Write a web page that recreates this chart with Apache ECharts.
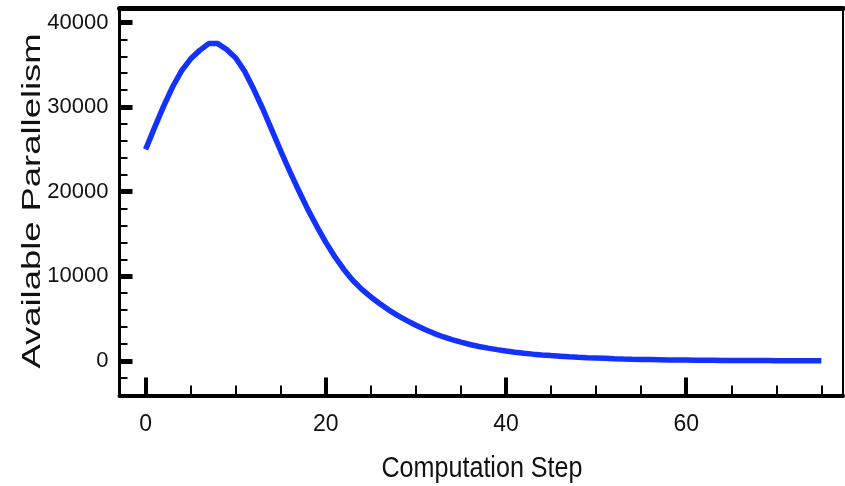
<!DOCTYPE html>
<html>
<head>
<meta charset="utf-8">
<script src="https://cdn.jsdelivr.net/npm/echarts@6/dist/echarts.min.js"></script>
<style>
  html, body { margin: 0; padding: 0; background: #fff; }
  #chart { width: 845px; height: 486px; }
</style>
</head>
<body>
<div id="chart"></div>
<script>
// computation step (x) and available parallelism (y)
const steps = [
  0, 1, 2, 3, 4, 5, 6, 7, 8, 9, 10, 11, 12, 13, 14, 15, 16, 17, 18, 19,
  20, 21, 22, 23, 24, 25, 26, 27, 28, 29, 30, 31, 32, 33, 34, 35, 36, 37, 38, 39,
  40, 41, 42, 43, 44, 45, 46, 47, 48, 49, 50, 51, 52, 53, 54, 55, 56, 57, 58, 59,
  60, 61, 62, 63, 64, 65, 66, 67, 68, 69, 70, 71, 72, 73, 74, 75
];
const parallelism = [
  25000, 27600, 30100, 32400, 34300, 35700, 36700, 37500, 37500, 36800,
  35800, 34200, 32100, 29800, 27300, 24800, 22400, 20100, 17900, 15900,
  14000, 12300, 10800, 9500, 8450, 7550, 6750, 6000, 5350, 4750,
  4200, 3700, 3250, 2850, 2500, 2200, 1930, 1700, 1500, 1320,
  1160, 1020, 900, 790, 700, 620, 550, 480, 420, 370,
  330, 290, 250, 220, 190, 170, 150, 130, 110, 100,
  90, 80, 70, 60, 50, 45, 40, 35, 30, 25,
  20, 18, 15, 12, 10, 10
];
const xMajorTicks = [0, 20, 40, 60];
const xMinorTicks = [0, 5, 10, 15, 20, 25, 30, 35, 40, 45, 50, 55, 60, 65, 70, 75];
const yMajorTicks = [0, 10000, 20000, 30000, 40000];
const yMinorTicks = [-4000, -2000, 0, 2000, 4000, 6000, 8000, 10000, 12000, 14000, 16000, 18000,
  20000, 22000, 24000, 26000, 28000, 30000, 32000, 34000, 36000, 38000, 40000];

const font = "'Liberation Sans', Arial, sans-serif";

const chart = echarts.init(document.getElementById('chart'));

const xRange = { min: -2.9, max: 77.4 };
const yRange = { min: -4100, max: 41650 };

let option = {
  animation: false,
  backgroundColor: '#fff',
  grid: { left: 119.5, right: 2, top: 8.5, bottom: 90.5 },
  xAxis: [
    {
      type: 'value', position: 'bottom', ...xRange,
      axisLine: { onZero: false, lineStyle: { color: '#000', width: 4 } },
      axisTick: { inside: true, length: 18, lineStyle: { color: '#000', width: 4 }, customValues: xMajorTicks },
      axisLabel: {
        margin: 18, fontFamily: font, fontSize: 23, color: '#111',
        customValues: xMajorTicks, formatter: (v) => String(v)
      },
      splitLine: { show: false }
    },
    {
      type: 'value', position: 'bottom', ...xRange,
      axisLine: { show: false, onZero: false },
      axisTick: { inside: true, length: 10, lineStyle: { color: '#000', width: 2 }, customValues: xMinorTicks },
      axisLabel: { show: false },
      splitLine: { show: false }
    },
    {
      type: 'value', position: 'top', ...xRange,
      axisLine: { onZero: false, lineStyle: { color: '#000', width: 5 } },
      axisTick: { show: false },
      axisLabel: { show: false },
      splitLine: { show: false }
    }
  ],
  yAxis: [
    {
      type: 'value', position: 'left', ...yRange,
      axisLine: { show: true, onZero: false, lineStyle: { color: '#000', width: 3 } },
      axisTick: { show: true, inside: true, length: 13, lineStyle: { color: '#000', width: 5 }, customValues: yMajorTicks },
      axisLabel: {
        margin: 11, fontFamily: font, fontSize: 22, color: '#111',
        customValues: yMajorTicks, formatter: (v) => String(v)
      },
      splitLine: { show: false }
    },
    {
      type: 'value', position: 'left', ...yRange,
      axisLine: { show: false, onZero: false },
      axisTick: { show: true, inside: true, length: 8, lineStyle: { color: '#000', width: 2 }, customValues: yMinorTicks },
      axisLabel: { show: false },
      splitLine: { show: false }
    },
    {
      type: 'value', position: 'right', ...yRange,
      axisLine: { show: true, onZero: false, lineStyle: { color: '#000', width: 2 } },
      axisTick: { show: false },
      axisLabel: { show: false },
      splitLine: { show: false }
    }
  ],
  graphic: [
    {
      // the titles in the original are condensed / stretched, so scale them
      type: 'text', x: 32.5, y: 201, rotation: Math.PI / 2, scaleX: 1.4,
      style: {
        text: 'Available Parallelism', font: '26px ' + font,
        fill: '#111', align: 'center', verticalAlign: 'middle'
      }
    },
    {
      type: 'text', x: 482, y: 469, scaleX: 0.866,
      style: {
        text: 'Computation Step', font: '29px ' + font,
        fill: '#111', align: 'center', verticalAlign: 'middle'
      }
    }
  ],
  series: [
    {
      type: 'line',
      xAxisIndex: 0, yAxisIndex: 0,
      data: steps.map((s, i) => [s, parallelism[i]]),
      showSymbol: false,
      smooth: false,
      lineStyle: { color: '#1432ff', width: 5.5 },
      itemStyle: { color: '#1432ff' }
    }
  ]
};

chart.setOption(option);
</script>
</body>
</html>
